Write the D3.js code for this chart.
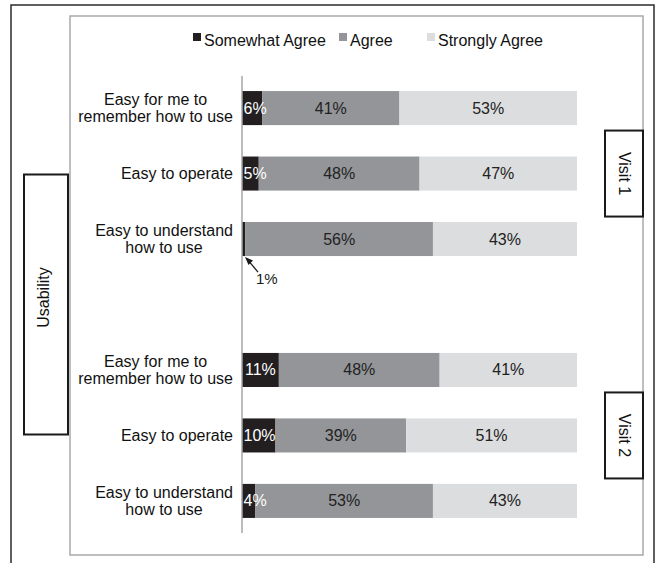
<!DOCTYPE html>
<html>
<head>
<meta charset="utf-8">
<script src="https://cdn.jsdelivr.net/npm/d3@7"></script>
<style>
  html, body { margin: 0; padding: 0; background: #fff; }
  svg { display: block; font-family: "Liberation Sans", Arial, sans-serif; }
</style>
</head>
<body>
<svg id="chart" width="657" height="563"></svg>
<script>
// Response categories (legend order, stacked left to right)
const responses = ["Somewhat Agree", "Agree", "Strongly Agree"];
const responseColors = ["#231f20", "#939598", "#dcdddf"];

// Survey statements, each split into display lines
const statements = [
  ["Easy for me to", "remember how to use"],
  ["Easy to operate"],
  ["Easy to understand", "how to use"]
];
const visits = ["Visit 1", "Visit 2"];
const dimension = "Usability";

// Percent of respondents per statement: Visit 1 rows first, then Visit 2 rows
const somewhatAgree = [6, 5, 1, 11, 10, 4];
const agree = [41, 48, 56, 48, 39, 53];
const stronglyAgree = [53, 47, 43, 41, 51, 43];

const svg = d3.select("#chart");
const W = 657, H = 563;

// Frames
svg.append("rect").attr("x", 11).attr("y", 5).attr("width", 643).attr("height", 580)
  .attr("fill", "none").attr("stroke", "#2b2b2b").attr("stroke-width", 1.5);
svg.append("rect").attr("x", 70).attr("y", 16).attr("width", 573).attr("height", 539)
  .attr("fill", "none").attr("stroke", "#a9a9a9").attr("stroke-width", 1.5);

// Rows: three per visit with an empty spacer slot between the visits
const rows = [];
visits.forEach((v, vi) => {
  statements.forEach((s, si) => rows.push({ key: vi + "-" + si, visit: vi, lines: s, idx: vi * 3 + si }));
  if (vi < visits.length - 1) rows.push({ key: "gap-" + vi, spacer: true });
});

const x = d3.scaleLinear().domain([0, 100]).range([242, 577]);
const y = d3.scaleBand().domain(rows.map(r => r.key)).range([76, 533])
  .paddingInner(0.48).paddingOuter(0.23);

const seriesValues = [somewhatAgree, agree, stronglyAgree];
const table = rows.filter(r => !r.spacer).map(r => {
  const o = { key: r.key, lines: r.lines, visit: r.visit };
  responses.forEach((name, k) => o[name] = seriesValues[k][r.idx]);
  return o;
});
const stack = d3.stack().keys(responses)(table);

// Bars
const layers = svg.append("g").selectAll("g").data(stack).join("g")
  .attr("fill", (d, i) => responseColors[i]);
layers.selectAll("rect").data(d => d).join("rect")
  .attr("x", d => x(d[0]))
  .attr("y", d => y(d.data.key))
  .attr("width", d => x(d[1]) - x(d[0]))
  .attr("height", y.bandwidth());

// Value axis line
svg.append("line").attr("x1", x(0)).attr("x2", x(0)).attr("y1", 76).attr("y2", 533)
  .attr("stroke", "#a6a6a6").attr("stroke-width", 1.5);

// Segment value labels
const labelG = svg.append("g").attr("font-size", 16);
stack.forEach((layer, li) => {
  layer.forEach(d => {
    const v = d[1] - d[0];
    const cy = y(d.data.key) + y.bandwidth() / 2;
    const segW = x(d[1]) - x(d[0]);
    if (segW < 6) {
      // Too narrow for an inside label: call it out beneath the bar with an arrow
      const bx = x(d[0]) + 3, by = y(d.data.key) + y.bandwidth() + 1;
      svg.append("line").attr("x1", bx + 13).attr("y1", by + 15).attr("x2", bx + 3).attr("y2", by + 3)
        .attr("stroke", "#1a1a1a").attr("stroke-width", 1.3);
      svg.append("path")
        .attr("d", `M${bx},${by} L${bx + 8},${by + 3.5} L${bx + 3.5},${by + 8} Z`)
        .attr("fill", "#1a1a1a");
      svg.append("text").attr("x", bx + 11).attr("y", by + 27)
        .attr("font-size", 15).attr("fill", "#1a1a1a").text(v + "%");
      return;
    }
    const t = labelG.append("text")
      .attr("y", cy + 5.5)
      .attr("fill", li === 0 ? "#ffffff" : "#222222")
      .text(v + "%");
    const tw = t.node().getComputedTextLength();
    const left = Math.max((x(d[0]) + x(d[1])) / 2 - tw / 2, x(0) + 1.5);
    t.attr("x", left);
  });
});

// Statement labels: lines centred on each other, block right-aligned to the axis
const catG = svg.append("g").attr("font-size", 16).attr("fill", "#111");
table.forEach(d => {
  const cy = y(d.key) + y.bandwidth() / 2;
  const g = catG.append("g");
  const n = d.lines.length;
  const texts = d.lines.map((ln, i) =>
    g.append("text").attr("text-anchor", "middle")
      .attr("y", cy + 5.5 + (i - (n - 1) / 2) * 17).text(ln));
  const maxW = d3.max(texts, t => t.node().getComputedTextLength());
  const cx = 233 - maxW / 2;
  texts.forEach(t => t.attr("x", cx));
});

// Visit boxes on the right
visits.forEach((v, vi) => {
  const keys = rows.filter(r => !r.spacer && r.visit === vi).map(r => r.key);
  const top = y(keys[0]) + y.bandwidth() / 2;
  const bottom = y(keys[keys.length - 1]) + y.bandwidth() / 2;
  const cy = (top + bottom) / 2;
  svg.append("rect").attr("x", 605).attr("y", cy - 43).attr("width", 38).attr("height", 86)
    .attr("fill", "#fff").attr("stroke", "#1a1a1a").attr("stroke-width", 2);
  svg.append("text").attr("transform", `translate(619,${cy}) rotate(90)`)
    .attr("text-anchor", "middle").attr("font-size", 16).attr("fill", "#111").text(v);
});

// Dimension box on the left
const gapKey = rows.find(r => r.spacer).key;
const gcy = y(gapKey) + y.bandwidth() / 2;
svg.append("rect").attr("x", 24).attr("y", gcy - 130).attr("width", 44).attr("height", 260)
  .attr("fill", "#fff").attr("stroke", "#1a1a1a").attr("stroke-width", 2);
svg.append("text").attr("transform", `translate(49,${gcy - 7}) rotate(-90)`)
  .attr("text-anchor", "middle").attr("font-size", 16).attr("fill", "#111").text(dimension);

// Legend
const legendX = [193, 339, 427];
const legend = svg.append("g").attr("font-size", 16).attr("fill", "#111");
responses.forEach((r, i) => {
  legend.append("rect").attr("x", legendX[i]).attr("y", 33).attr("width", 8).attr("height", 8)
    .attr("fill", responseColors[i]);
  legend.append("text").attr("x", legendX[i] + 11).attr("y", 46).text(r);
});
</script>
</body>
</html>
